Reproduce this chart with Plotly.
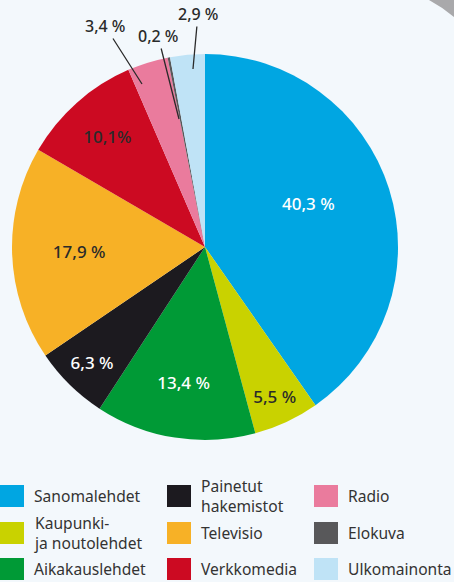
import plotly.graph_objects as go

# Media share of advertising (%)
categories = ["Sanomalehdet", "Kaupunki- ja noutolehdet", "Aikakauslehdet",
              "Painetut hakemistot", "Televisio", "Verkkomedia",
              "Radio", "Elokuva", "Ulkomainonta"]
legend_labels = ["Sanomalehdet", "Kaupunki-<br>ja noutolehdet", "Aikakauslehdet",
                 "Painetut<br>hakemistot", "Televisio", "Verkkomedia",
                 "Radio", "Elokuva", "Ulkomainonta"]
shares = [40.3, 5.5, 13.4, 6.3, 17.9, 10.1, 3.4, 0.2, 2.9]
colors = ["#00a6e2", "#c9d200", "#009a36", "#1c1a1f", "#f7b126",
          "#cc0a22", "#ea7b9d", "#58585a", "#bfe3f6"]
text_colors = ["#ffffff", "#2a2a2a", "#ffffff", "#ffffff", "#2a2a2a",
               "#2a2a2a", "#2a2a2a", "#2a2a2a", "#2a2a2a"]

FONT = "Noto Sans, Open Sans, sans-serif"


def fmt(v, sep=" "):
    return f"{v:.1f}".replace(".", ",") + sep + "%"


# labels placed by hand in the original (small slices get leader lines)
callouts = {"Radio": (142, 84, 105, 26), "Elokuva": (179, 119, 158, 36),
            "Ulkomainonta": (193, 69, 198, 14)}
free_labels = {"Sanomalehdet": (337, 203)}

inside_text = []
for c, v in zip(categories, shares):
    if c in callouts or c in free_labels:
        inside_text.append("")
    elif c == "Verkkomedia":
        inside_text.append(fmt(v, ""))
    else:
        inside_text.append(fmt(v))

W, H = 454, 582
cx, cy, r = 205, 247, 193

fig = go.Figure(go.Pie(
    labels=categories, values=shares, sort=False, direction="clockwise",
    rotation=0, marker=dict(colors=colors, line=dict(width=0)),
    text=inside_text, textinfo="text", textposition="inside",
    insidetextorientation="horizontal",
    textfont=dict(family=FONT, size=17, color=text_colors, weight=500),
    domain=dict(x=[(cx - r) / W, (cx + r) / W], y=[(H - cy - r) / H, (H - cy + r) / H]),
    showlegend=False, hoverinfo="label+percent",
))

for c, v, tc in zip(categories, shares, text_colors):
    if c in callouts:
        x0, y0, tx, ty = callouts[c]
        fig.add_annotation(x=x0 / W, y=1 - y0 / H, xref="paper", yref="paper",
                           ax=tx - x0, ay=ty - y0,
                           text=fmt(v), showarrow=True, arrowhead=0, arrowwidth=1.3,
                           arrowcolor="#2a2a2a", standoff=0,
                           font=dict(family=FONT, size=16, color="#2a2a2a", weight=500))
    elif c in free_labels:
        tx, ty = free_labels[c]
        fig.add_annotation(x=tx / W, y=1 - ty / H, xref="paper", yref="paper",
                           text=fmt(v), showarrow=False,
                           font=dict(family=FONT, size=17, color=tc, weight=500))

# manual three-column legend
col_x = [0, 167, 314]
row_y = [496, 533, 569]
for i, (lab, col) in enumerate(zip(legend_labels, colors)):
    x = col_x[i // 3]
    y = row_y[i % 3]
    fig.add_shape(type="rect", xref="paper", yref="paper",
                  x0=x / W, x1=(x + 24) / W, y0=1 - (y - 11) / H, y1=1 - (y + 11) / H,
                  fillcolor=col, line=dict(width=0))
    fig.add_annotation(x=(x + 32) / W, y=1 - y / H, xref="paper", yref="paper",
                       text=lab, showarrow=False, xanchor="left", yanchor="middle",
                       align="left",
                       font=dict(family=FONT, size=15.6, color="#333333"))

# gray corner decoration
fig.add_shape(type="path", xref="paper", yref="paper",
              path=f"M {429 / W} 1 Q {442 / W} {1 - 7 / H} {1} {1 - 17 / H} L 1 1 Z",
              fillcolor="#a9a9ab", line=dict(width=0))

fig.update_layout(
    width=W, height=H, margin=dict(l=0, r=0, t=0, b=0),
    paper_bgcolor="#f3f8fc", plot_bgcolor="#f3f8fc",
)
fig.write_html("out.html", config={"displayModeBar": False},
               post_script="document.body.style.margin='0px';")
